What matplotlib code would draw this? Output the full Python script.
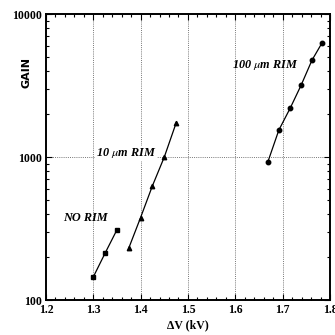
import matplotlib
matplotlib.use("Agg")
import matplotlib.pyplot as plt
from matplotlib.ticker import MultipleLocator, FixedLocator, NullFormatter, LogLocator

# Gain vs. voltage difference for three rim widths
no_rim_dv = [1.300, 1.325, 1.350]
no_rim_gain = [145, 213, 310]

rim10_dv = [1.375, 1.400, 1.425, 1.450, 1.475]
rim10_gain = [231, 378, 630, 1000, 1730]

rim100_dv = [1.669, 1.692, 1.716, 1.739, 1.762, 1.783]
rim100_gain = [930, 1545, 2200, 3180, 4760, 6270]

x_ticks = [1.2, 1.3, 1.4, 1.5, 1.6, 1.7, 1.8]
x_tick_labels = ["1.2", "1.3", "1.4", "1.5", "1.6", "1.7", "1.8"]
y_ticks = [100, 1000, 10000]
y_tick_labels = ["100", "1000", "10000"]

plt.rcParams["font.family"] = ["Liberation Serif", "DejaVu Serif"]
plt.rcParams["mathtext.fontset"] = "stix"

fig = plt.figure(figsize=(3.35, 3.35), dpi=100)
ax = fig.add_axes([0.137, 0.104, 0.848, 0.854])
ax.set_yscale("log")
ax.set_xlim(1.2, 1.8)
ax.set_ylim(100, 10000)

# dotted guide lines
for xv in [1.3, 1.4, 1.5, 1.6, 1.7]:
    ax.axvline(xv, color="#777777", lw=0.7, ls=(0, (1, 1.2)), zorder=1)
ax.axhline(1000, color="#777777", lw=0.7, ls=(0, (1, 1.2)), zorder=1)

ax.plot(no_rim_dv, no_rim_gain, "-s", color="black", lw=0.9, ms=3.2, zorder=3)
ax.plot(rim10_dv, rim10_gain, "-^", color="black", lw=0.9, ms=3.2, zorder=3)
ax.plot(rim100_dv, rim100_gain, "-o", color="black", lw=0.9, ms=3.2, zorder=3)

lab_kw = dict(fontsize=8.8, fontstyle="italic", fontweight="bold", ha="center", va="center",
              zorder=4)
ax.text(1.283, 374, "NO RIM", **lab_kw)
ax.text(1.369, 1060, "10 $\\mu$m RIM",
        bbox=dict(facecolor="white", edgecolor="none", pad=0.6), **lab_kw)
ax.text(1.663, 4400, "100 $\\mu$m RIM", **lab_kw)

ax.set_xticks(x_ticks)
ax.set_xticklabels(x_tick_labels)
ax.xaxis.set_minor_locator(MultipleLocator(0.02))
ax.yaxis.set_major_locator(FixedLocator(y_ticks))
ax.set_yticklabels(y_tick_labels)
ax.yaxis.set_minor_locator(LogLocator(base=10, subs=range(2, 10)))
ax.yaxis.set_minor_formatter(NullFormatter())

ax.tick_params(which="both", direction="in", top=True, right=True, width=0.8,
               labelsize=8.5, pad=3)
ax.tick_params(which="major", length=4)
ax.tick_params(which="minor", length=2)
for lbl in ax.get_xticklabels() + ax.get_yticklabels():
    lbl.set_fontweight("bold")
for sp in ax.spines.values():
    sp.set_linewidth(1.4)

ax.set_xlabel("ΔV (kV)", fontsize=8.5, fontweight="bold", labelpad=2)
fig.text(0.08, 0.785, "GAIN", rotation=90, fontsize=8, fontweight="bold",
         ha="center", va="center", family="DejaVu Sans")

fig.savefig("out.png", dpi=100)
